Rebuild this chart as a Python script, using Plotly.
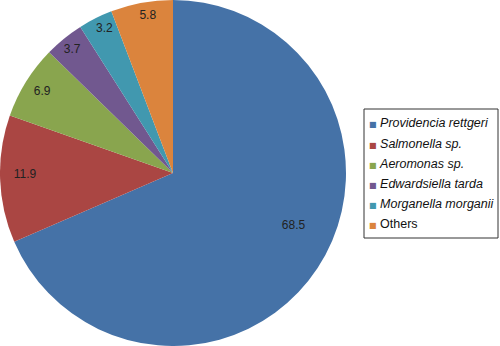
import plotly.graph_objects as go

labels = ["Providencia rettgeri", "Salmonella sp.", "Aeromonas sp.",
          "Edwardsiella tarda", "Morganella morganii", "Others"]
italic = [True, True, True, True, True, False]
values = [68.5, 11.9, 6.9, 3.7, 3.2, 5.8]
colors = ["#4572A7", "#AA4643", "#89A54E", "#71588F", "#4198AF", "#DB843D"]
# radius (px) and rotation of the invisible helper pie whose outside text places each value label
label_r = [117, 133, 143, 149, 150, 152]
label_rot = [-7.5, 1.5, 2, 2.5, 4.5, 5.5]

W, H = 500, 346
cx, cy, R = 173, 173, 173


def dom(r):
    return dict(x=[(cx - r) / W, (cx + r) / W], y=[(cy - r) / H, (cy + r) / H])


fig = go.Figure()
fig.add_trace(go.Pie(
    labels=labels, values=values, sort=False, direction="clockwise", rotation=0,
    marker=dict(colors=colors, line=dict(width=0)),
    textinfo="none", showlegend=False, domain=dom(R),
))
# transparent helper pies used only to place the value labels near the outer rim
transparent = ["rgba(0,0,0,0)"] * len(values)
for k, (rin, rot) in enumerate(zip(label_r, label_rot)):
    pos = ["outside" if j == k else "none" for j in range(len(values))]
    fig.add_trace(go.Pie(
        labels=labels, values=values, sort=False, direction="clockwise", rotation=rot,
        marker=dict(colors=transparent, line=dict(width=0)),
        texttemplate="%{value}", textposition=pos, hoverinfo="skip",
        textfont=dict(color="#222222", size=12, family="Liberation Sans"),
        showlegend=False, domain=dom(rin),
    ))

# legend box
lx0, lx1, ly0, ly1 = 364, 498, 109, 238
fig.add_shape(type="rect", xref="paper", yref="paper",
              x0=lx0 / W, x1=lx1 / W, y0=1 - ly1 / H, y1=1 - ly0 / H,
              line=dict(color="#333333", width=1), fillcolor="white", layer="below")
for i, (lab, it, col) in enumerate(zip(labels, italic, colors)):
    txt = f"<i>{lab}</i>" if it else lab
    fig.add_annotation(
        xref="paper", yref="paper", x=367 / W, y=1 - (123.5 + 20.1 * i) / H,
        xanchor="left", yanchor="middle", showarrow=False,
        text=f"<span style='color:{col};font-size:8px;font-family:DejaVu Sans'>■</span> {txt}",
        font=dict(size=12.5, family="Liberation Sans", color="#111111"),
    )

fig.update_layout(
    width=W, height=H, margin=dict(l=0, r=0, t=0, b=0),
    paper_bgcolor="white", plot_bgcolor="white",
    font=dict(family="Liberation Sans", size=12, color="#111111"),
    showlegend=False,
)
fig.write_html("out.html", config={"displayModeBar": False},
               post_script="document.body.style.margin='0';")
